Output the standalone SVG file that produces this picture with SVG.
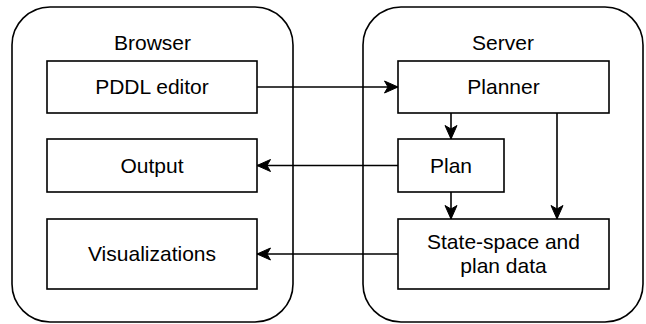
<svg xmlns="http://www.w3.org/2000/svg" width="646" height="324" viewBox="0 0 646 324">
<style>
.c{fill:#fff;stroke:#000;stroke-width:1.6}
.b{fill:#fff;stroke:#000;stroke-width:1.6}
.t{font-family:"Liberation Sans",Arial,Helvetica,sans-serif;font-size:21px;fill:#000;text-anchor:middle}
.e{fill:none;stroke:#000;stroke-width:1.6}
</style>
<defs>
<marker id="arr" markerUnits="userSpaceOnUse" markerWidth="15" markerHeight="14" viewBox="0 0 15 14" refX="14" refY="7" orient="auto">
<path d="M0.5,1 L14,7 L0.5,13 L4,7 Z" fill="#000" stroke="#000" stroke-width="1"/>
</marker>
</defs>
<g id="browser">
<rect class="c" x="12" y="7" width="281" height="315" rx="38" ry="38"/>
<text class="t" x="152.5" y="50">Browser</text>
</g>
<g id="server">
<rect class="c" x="363" y="7" width="280" height="315" rx="38" ry="38"/>
<text class="t" x="503" y="50">Server</text>
</g>
<g id="pddl-editor">
<rect class="b" x="47" y="61" width="210" height="52"/>
<text class="t" x="152" y="94">PDDL editor</text>
</g>
<g id="output">
<rect class="b" x="47" y="139" width="210" height="53"/>
<text class="t" x="152" y="173">Output</text>
</g>
<g id="visualizations">
<rect class="b" x="47" y="219" width="210" height="70"/>
<text class="t" x="152" y="261">Visualizations</text>
</g>
<g id="planner">
<rect class="b" x="398" y="61" width="211" height="52"/>
<text class="t" x="503.5" y="94">Planner</text>
</g>
<g id="plan">
<rect class="b" x="398" y="139" width="106" height="53"/>
<text class="t" x="451" y="173">Plan</text>
</g>
<g id="state-space">
<rect class="b" x="398" y="219" width="211" height="70"/>
<text class="t" x="503.5" y="249">State-space and</text>
<text class="t" x="503.5" y="273">plan data</text>
</g>
<g id="connectors">
<path class="e" d="M257,87 H398" marker-end="url(#arr)"/>
<path class="e" d="M451,113 V139" marker-end="url(#arr)"/>
<path class="e" d="M557,113 V219" marker-end="url(#arr)"/>
<path class="e" d="M451,192 V219" marker-end="url(#arr)"/>
<path class="e" d="M398,165.5 H257" marker-end="url(#arr)"/>
<path class="e" d="M398,254 H257" marker-end="url(#arr)"/>
</g>
</svg>
